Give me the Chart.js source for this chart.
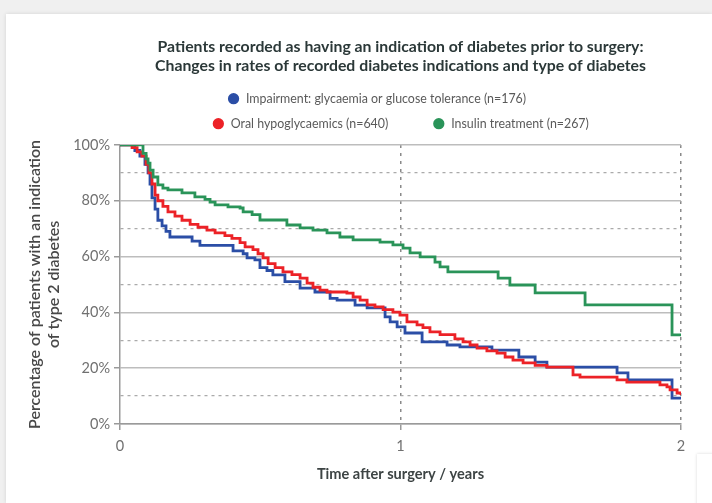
<!DOCTYPE html>
<html><head><meta charset="utf-8">
<script src="https://cdn.jsdelivr.net/npm/chart.js@4.4.1/dist/chart.umd.min.js"></script>
<style>
html,body{margin:0;padding:0;width:712px;height:503px;overflow:hidden;background:#f0f0f0;}
#card{position:absolute;left:6px;top:14px;width:706px;height:489px;background:#fff;box-shadow:0 0 4px rgba(0,0,0,0.12);}
#card2{position:absolute;left:697px;top:454px;width:30px;height:60px;background:#fff;box-shadow:0 0 3px rgba(0,0,0,0.15);}
#wrap{position:absolute;left:0;top:0;width:712px;height:503px;}
</style></head><body>
<div id="card"></div><div id="card2"></div>
<div id="wrap"><canvas id="c" width="712" height="503"></canvas></div>
<script>
// ---- data ----
const titleLines = ['Patients recorded as having an indication of diabetes prior to surgery:',
                    'Changes in rates of recorded diabetes indications and type of diabetes'];
const seriesNames = ['Impairment: glycaemia or glucose tolerance (n=176)',
                     'Oral hypoglycaemics (n=640)',
                     'Insulin treatment (n=267)'];
const yTitleLines = ['Percentage of patients with an indication', 'of type 2 diabetes'];
const xTitle = 'Time after surgery / years';
const xTickValues = [0, 1, 2];
const xTickLabels = ['0', '1', '2'];
const yTickValues = [0, 20, 40, 60, 80, 100];
const yTickLabels = ['0%', '20%', '40%', '60%', '80%', '100%'];

const blueT = [0, 0.036, 0.053, 0.071, 0.089, 0.100, 0.107, 0.114, 0.125, 0.135, 0.150, 0.164, 0.178, 0.257, 0.285, 0.403, 0.439, 0.453, 0.481, 0.499, 0.524, 0.545, 0.588, 0.642, 0.695, 0.749, 0.774, 0.838, 0.881, 0.945, 0.963, 0.988, 1.016, 1.077, 1.166, 1.212, 1.326, 1.422, 1.480, 1.522, 1.772, 1.811, 1.968, 2.0];
const blueV = [100, 100, 98, 96, 93, 90, 86, 81, 77, 73, 71, 69, 67, 65.5, 64, 62, 61, 59.5, 58.8, 56, 55, 53.4, 51, 48.7, 47.3, 45, 44.4, 42.6, 41.6, 38.4, 36.6, 34.8, 32.6, 29.4, 28.3, 27.6, 26.5, 24, 22.2, 20.4, 18.3, 15.8, 9.3, 9.3];

const redT = [0, 0.029, 0.043, 0.061, 0.078, 0.093, 0.103, 0.114, 0.125, 0.135, 0.153, 0.171, 0.196, 0.221, 0.250, 0.278, 0.310, 0.339, 0.374, 0.399, 0.428, 0.446, 0.474, 0.492, 0.510, 0.528, 0.553, 0.581, 0.613, 0.642, 0.667, 0.688, 0.713, 0.738, 0.809, 0.831, 0.856, 0.881, 0.909, 0.938, 0.973, 0.998, 1.023, 1.059, 1.080, 1.105, 1.141, 1.194, 1.223, 1.248, 1.273, 1.308, 1.344, 1.373, 1.401, 1.437, 1.480, 1.522, 1.615, 1.640, 1.772, 1.807, 1.925, 1.950, 1.961, 1.986, 2.0];
const redV = [100, 100, 99, 97.5, 96, 93, 90, 86, 82, 80, 78, 76, 74.5, 73, 71.5, 70.5, 69.5, 68.5, 67.5, 66.5, 65, 63.5, 62.5, 61, 59.5, 57.5, 56, 54.5, 53.5, 52.3, 50.5, 49, 48, 47.3, 46.9, 45.5, 44.4, 42.7, 42, 41, 40.1, 39, 36.6, 35.5, 34.5, 33, 32, 30.5, 29.4, 28.3, 27.2, 26.2, 25.4, 24, 22.9, 21.9, 21, 20.4, 17.6, 16.8, 15.8, 15, 14, 13.3, 12.2, 11.1, 10.4];

const greenT = [0, 0.064, 0.082, 0.093, 0.100, 0.107, 0.118, 0.135, 0.153, 0.171, 0.221, 0.267, 0.303, 0.321, 0.339, 0.385, 0.428, 0.439, 0.471, 0.499, 0.595, 0.642, 0.688, 0.738, 0.784, 0.831, 0.927, 0.973, 1.009, 1.034, 1.070, 1.123, 1.141, 1.169, 1.348, 1.390, 1.480, 1.658, 1.968, 2.0];
const greenV = [100, 100, 97, 95, 93.5, 91, 88.5, 85.7, 84.5, 83.9, 82.8, 81.4, 80.5, 79.5, 78.5, 77.8, 77.4, 76, 75, 73.1, 71.3, 70.3, 69.5, 68.5, 67, 66, 65.2, 64.2, 63, 61.3, 59.9, 58, 56.3, 54.5, 52.3, 49.8, 47, 42.7, 31.9, 31.9];

const seriesColors = ['#2b4ea6', '#ec2227', '#2a9459'];

// ---- chart ----
const FONT = 'Lato, "Open Sans", sans-serif';
Chart.defaults.font.family = FONT;
const LEGEND_SIZE = 12.4;
const legendTextWidths = [325, 188, 0];   // layout: room reserved for each legend label
const measureCtx = document.createElement('canvas').getContext('2d');
function padTo(text, px) {
  measureCtx.font = LEGEND_SIZE + 'px ' + FONT;
  let s = text;
  while (measureCtx.measureText(s).width < px) s += ' ';
  return s;
}
const toPts = (t, v) => t.map((x, i) => ({x: x, y: v[i]}));
const isMajor = (ctx) => !!ctx.tick && yTickValues.includes(ctx.tick.value);

new Chart(document.getElementById('c'), {
  type: 'line',
  data: {
    datasets: [
      {label: seriesNames[0], data: toPts(blueT, blueV), order: 3},
      {label: seriesNames[1], data: toPts(redT, redV), order: 2},
      {label: seriesNames[2], data: toPts(greenT, greenV), order: 1}
    ].map((d, i) => Object.assign(d, {
      xAxisID: 'x', yAxisID: 'y',
      borderColor: seriesColors[i], backgroundColor: seriesColors[i],
      stepped: 'before', borderWidth: 2.8, pointRadius: 0, fill: false
    }))
  },
  options: {
    responsive: false,
    animation: false,
    devicePixelRatio: 1,
    layout: {padding: {left: 0, right: 31, top: 0, bottom: 0}},
    plugins: {
      tooltip: {enabled: false},
      title: {
        display: true, fullSize: false, text: titleLines, color: '#2b3838',
        font: {size: 15.8, weight: 'bold', lineHeight: 1.2},
        padding: {top: 37.5, bottom: 4.5}
      },
      legend: {
        display: true, fullSize: false,
        labels: {
          usePointStyle: true, pointStyle: 'circle', boxWidth: 13, boxHeight: 6,
          padding: 12.6, color: '#5a5a5a', font: {size: LEGEND_SIZE},
          sort: (a, b) => a.datasetIndex - b.datasetIndex,
          generateLabels: (chart) => {
            const items = Chart.defaults.plugins.legend.labels.generateLabels(chart);
            items.forEach(it => { it.text = padTo(it.text, legendTextWidths[it.datasetIndex]); });
            return items;
          }
        }
      }
    },
    scales: {
      xTop: {
        type: 'linear', position: 'top', min: 0, max: 2, display: true,
        ticks: {display: false}, grid: {display: false, drawTicks: false},
        border: {display: false},
        afterFit: (s) => { s.height = 5; }
      },
      x: {
        type: 'linear', position: 'bottom', min: 0, max: 2,
        afterFit: (s) => { s.height = 79; },
        afterBuildTicks: (s) => { s.ticks = xTickValues.map(v => ({value: v})); },
        ticks: {
          padding: 8, color: '#707070', font: {size: 14.5},
          callback: (v) => xTickLabels[xTickValues.indexOf(v)]
        },
        grid: {
          color: (ctx) => (ctx.tick && ctx.tick.value === 0) ? 'rgba(0,0,0,0)' : '#8a8a8a',
          lineWidth: 1.5,
          tickLength: 6, tickColor: '#9a9a9a', tickBorderDash: [], tickWidth: 1.5
        },
        border: {color: '#9a9a9a', width: 1.5, dash: [3, 5]},
        title: {
          display: true, text: xTitle, color: '#3d4444',
          font: {size: 14.6, weight: 'bold'}, padding: {bottom: 20, top: 0}
        }
      },
      y: {
        min: 0, max: 100, position: 'left',
        afterFit: (s) => { s.width = 120; },
        ticks: {
          stepSize: 10, autoSkip: false, padding: 4, color: '#707070', font: {size: 14.5},
          callback: (v) => { const i = yTickValues.indexOf(v); return i >= 0 ? yTickLabels[i] : ''; }
        },
        grid: {
          color: (ctx) => isMajor(ctx) ? '#bdbdbd' : '#aaaaaa',
          lineWidth: (ctx) => isMajor(ctx) ? 1.5 : 1.2,
          tickLength: 6,
          tickColor: (ctx) => isMajor(ctx) ? '#9a9a9a' : 'rgba(0,0,0,0)',
          tickBorderDash: [], tickWidth: 1.5
        },
        border: {color: '#9a9a9a', width: 1.5, dash: (ctx) => isMajor(ctx) ? [] : [3, 4]},
        title: {
          display: true, text: yTitleLines, color: '#484848',
          font: {size: 16, weight: '600', lineHeight: 1.15}, padding: {top: 25.8}
        }
      }
    }
  }
});
</script>
</body></html>
